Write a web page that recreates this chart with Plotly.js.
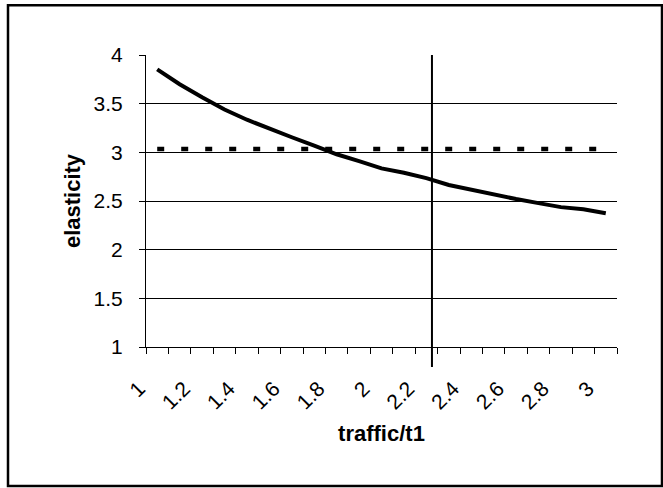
<!DOCTYPE html>
<html>
<head>
<meta charset="utf-8">
<script src="https://cdn.plot.ly/plotly-3.0.1.min.js"></script>
<style>
  html, body { margin: 0; padding: 0; background: #fff; }
  #chart { width: 663px; height: 488px; }
</style>
</head>
<body>
<div id="chart"></div>
<script>
// Categories (traffic/t1)
const traffic = [1.0, 1.1, 1.2, 1.3, 1.4, 1.5, 1.6, 1.7, 1.8, 1.9, 2.0,
                 2.1, 2.2, 2.3, 2.4, 2.5, 2.6, 2.7, 2.8, 2.9, 3.0];
// Elasticity curve
const elasticity = [3.853, 3.70, 3.565, 3.44, 3.335, 3.24, 3.155, 3.07, 2.98, 2.91, 2.835,
                    2.79, 2.735, 2.665, 2.615, 2.573, 2.52, 2.478, 2.437, 2.415, 2.374];
// Horizontal reference level (dotted)
const reference = [3.035, 3.035, 3.035, 3.035, 3.035, 3.035, 3.035, 3.035, 3.035, 3.035, 3.035,
                   3.035, 3.035, 3.035, 3.035, 3.035, 3.035, 3.035, 3.035, 3.035, 3.035];
// Vertical marker position
const markerX = [2.225];
// Tick labels
const xLabelVals = [1, 1.2, 1.4, 1.6, 1.8, 2, 2.2, 2.4, 2.6, 2.8, 3];
const xLabels = ['1', '1.2', '1.4', '1.6', '1.8', '2', '2.2', '2.4', '2.6', '2.8', '3'];
const yTickVals = [1, 1.5, 2, 2.5, 3, 3.5, 4];
const yTickText = ['1', '1.5', '2', '2.5', '3', '3.5', '4'];

// category boundaries (for tick marks between categories)
const step = traffic[1] - traffic[0];
const boundaries = [traffic[0] - step / 2].concat(traffic.map(v => v + step / 2));

const traces = [
  {
    x: traffic, y: reference, type: 'scatter', mode: 'lines',
    line: { color: '#000', width: 4.5, dash: '7px,17px' },
    hoverinfo: 'skip', showlegend: false
  },
  {
    x: traffic, y: elasticity, type: 'scatter', mode: 'lines',
    line: { color: '#000', width: 4, shape: 'linear' },
    showlegend: false
  }
];

const layout = {
  width: 663, height: 488,
  margin: { l: 146, r: 46, t: 55, b: 141 },
  paper_bgcolor: '#fff', plot_bgcolor: '#fff',
  font: { family: 'Liberation Sans, Arial, sans-serif', color: '#000', size: 21 },
  showlegend: false,
  xaxis: {
    type: 'linear',
    range: [boundaries[0], boundaries[boundaries.length - 1]],
    tickmode: 'array', tickvals: xLabelVals, ticktext: xLabels,
    tickangle: -45,
    ticks: 'outside', ticklen: 20, tickcolor: 'rgba(0,0,0,0)',
    ticklabelshift: -18,
    minor: { tickmode: 'array', tickvals: boundaries, ticks: 'outside', ticklen: 6,
             tickcolor: '#000', tickwidth: 1, showgrid: false },
    showline: true, linecolor: '#000', linewidth: 1,
    showgrid: false, zeroline: false,
    tickfont: { size: 21 },
    title: { text: 'traffic/t1', font: { size: 22, weight: 'bold' }, standoff: 12 },
    automargin: false
  },
  yaxis: {
    range: [1, 4],
    tickmode: 'array', tickvals: yTickVals, ticktext: yTickText,
    ticks: 'outside', ticklen: 6, tickcolor: '#000', tickwidth: 1,
    showline: true, linecolor: '#000', linewidth: 1,
    showgrid: true, gridcolor: '#000', gridwidth: 1,
    zeroline: false,
    tickfont: { size: 21 },
    ticklabelstandoff: 12,
    title: { text: 'elasticity', font: { size: 22, weight: 'bold' }, standoff: 6 },
    automargin: false
  },
  shapes: [
    {
      type: 'line', xref: 'x', yref: 'paper',
      x0: markerX[0], x1: markerX[0], y0: -0.0685, y1: 1,
      line: { color: '#000', width: 2 }
    },
    {
      type: 'rect', xref: 'paper', yref: 'paper',
      x0: -0.29299, x1: 1.09554, y0: -0.47603, y1: 1.17021,
      line: { color: '#000', width: 2.5 }, fillcolor: 'rgba(0,0,0,0)'
    }
  ]
};

Plotly.newPlot('chart', traces, layout, { staticPlot: true, displayModeBar: false });
</script>
</body>
</html>
